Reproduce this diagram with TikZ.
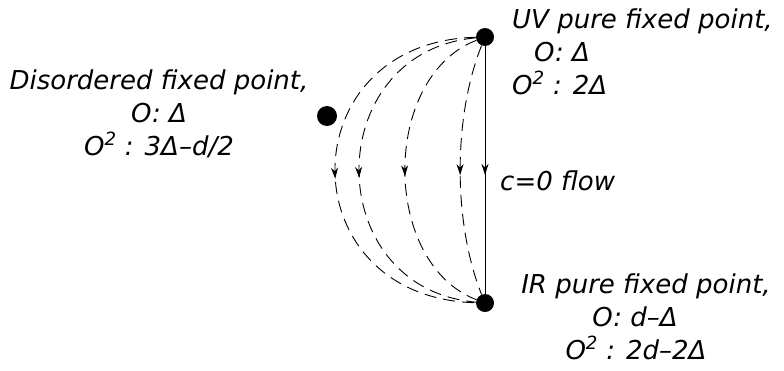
\documentclass[tikz,border=0pt]{standalone}
\usepackage{fontspec}
\setmainfont{DejaVu Sans}
\usetikzlibrary{arrows.meta,decorations.markings}

\begin{document}
\begin{tikzpicture}[x=1pt,y=-1pt,
  fixpt/.style={circle,fill=black,inner sep=0pt,minimum size=18pt},
  lbl/.style={font=\fontsize{26}{33}\selectfont\itshape,inner sep=0pt},
  midarrow/.style={postaction={decorate},decoration={markings,mark=at position 0.52 with {\arrow{Stealth[length=11pt,width=7pt]}}}},
  flow/.style={line width=0.9pt,midarrow},
  crossover/.style={line width=0.9pt,dash pattern=on 12pt off 7pt,midarrow}]
\useasboundingbox (0,0) rectangle (784,370);
% fixed points
\node[fixpt] (uv) at (485,37) {};
\node[fixpt] (ir) at (485,303) {};
\node[fixpt,minimum size=20pt] (dis) at (327,116) {};
% labels (base anchor = last line)
\node[lbl,anchor=base west,align=left] (uvlbl) at (512,94)
  {UV pure fixed point,\\\hspace*{22pt}O: Δ\\O\textsuperscript{2} : 2Δ};
\node[lbl,anchor=base,align=center] (dislbl) at (159,155)
  {Disordered fixed point,\\O: Δ\\O\textsuperscript{2} : 3Δ–d/2};
\node[lbl,anchor=base,align=center] (irlbl) at (646,359)
  {IR pure fixed point,\\\hspace*{-22pt}O: d–Δ\\\hspace*{-20pt}O\textsuperscript{2} : 2d–2Δ};
\node[lbl,anchor=base west] (flowlbl) at (500,190) {c=0 flow};
% flows
\draw[flow] (uv) -- (ir);
\draw[crossover] (uv) .. controls +(-197,5) and +(-197,-5) .. (ir);
\draw[crossover] (uv) .. controls +(-165,15) and +(-165,-15) .. (ir);
\draw[crossover] (uv) .. controls +(-104,40) and +(-104,-40) .. (ir);
\draw[crossover] (uv) .. controls +(-32,80) and +(-32,-80) .. (ir);
\end{tikzpicture}
\end{document}
